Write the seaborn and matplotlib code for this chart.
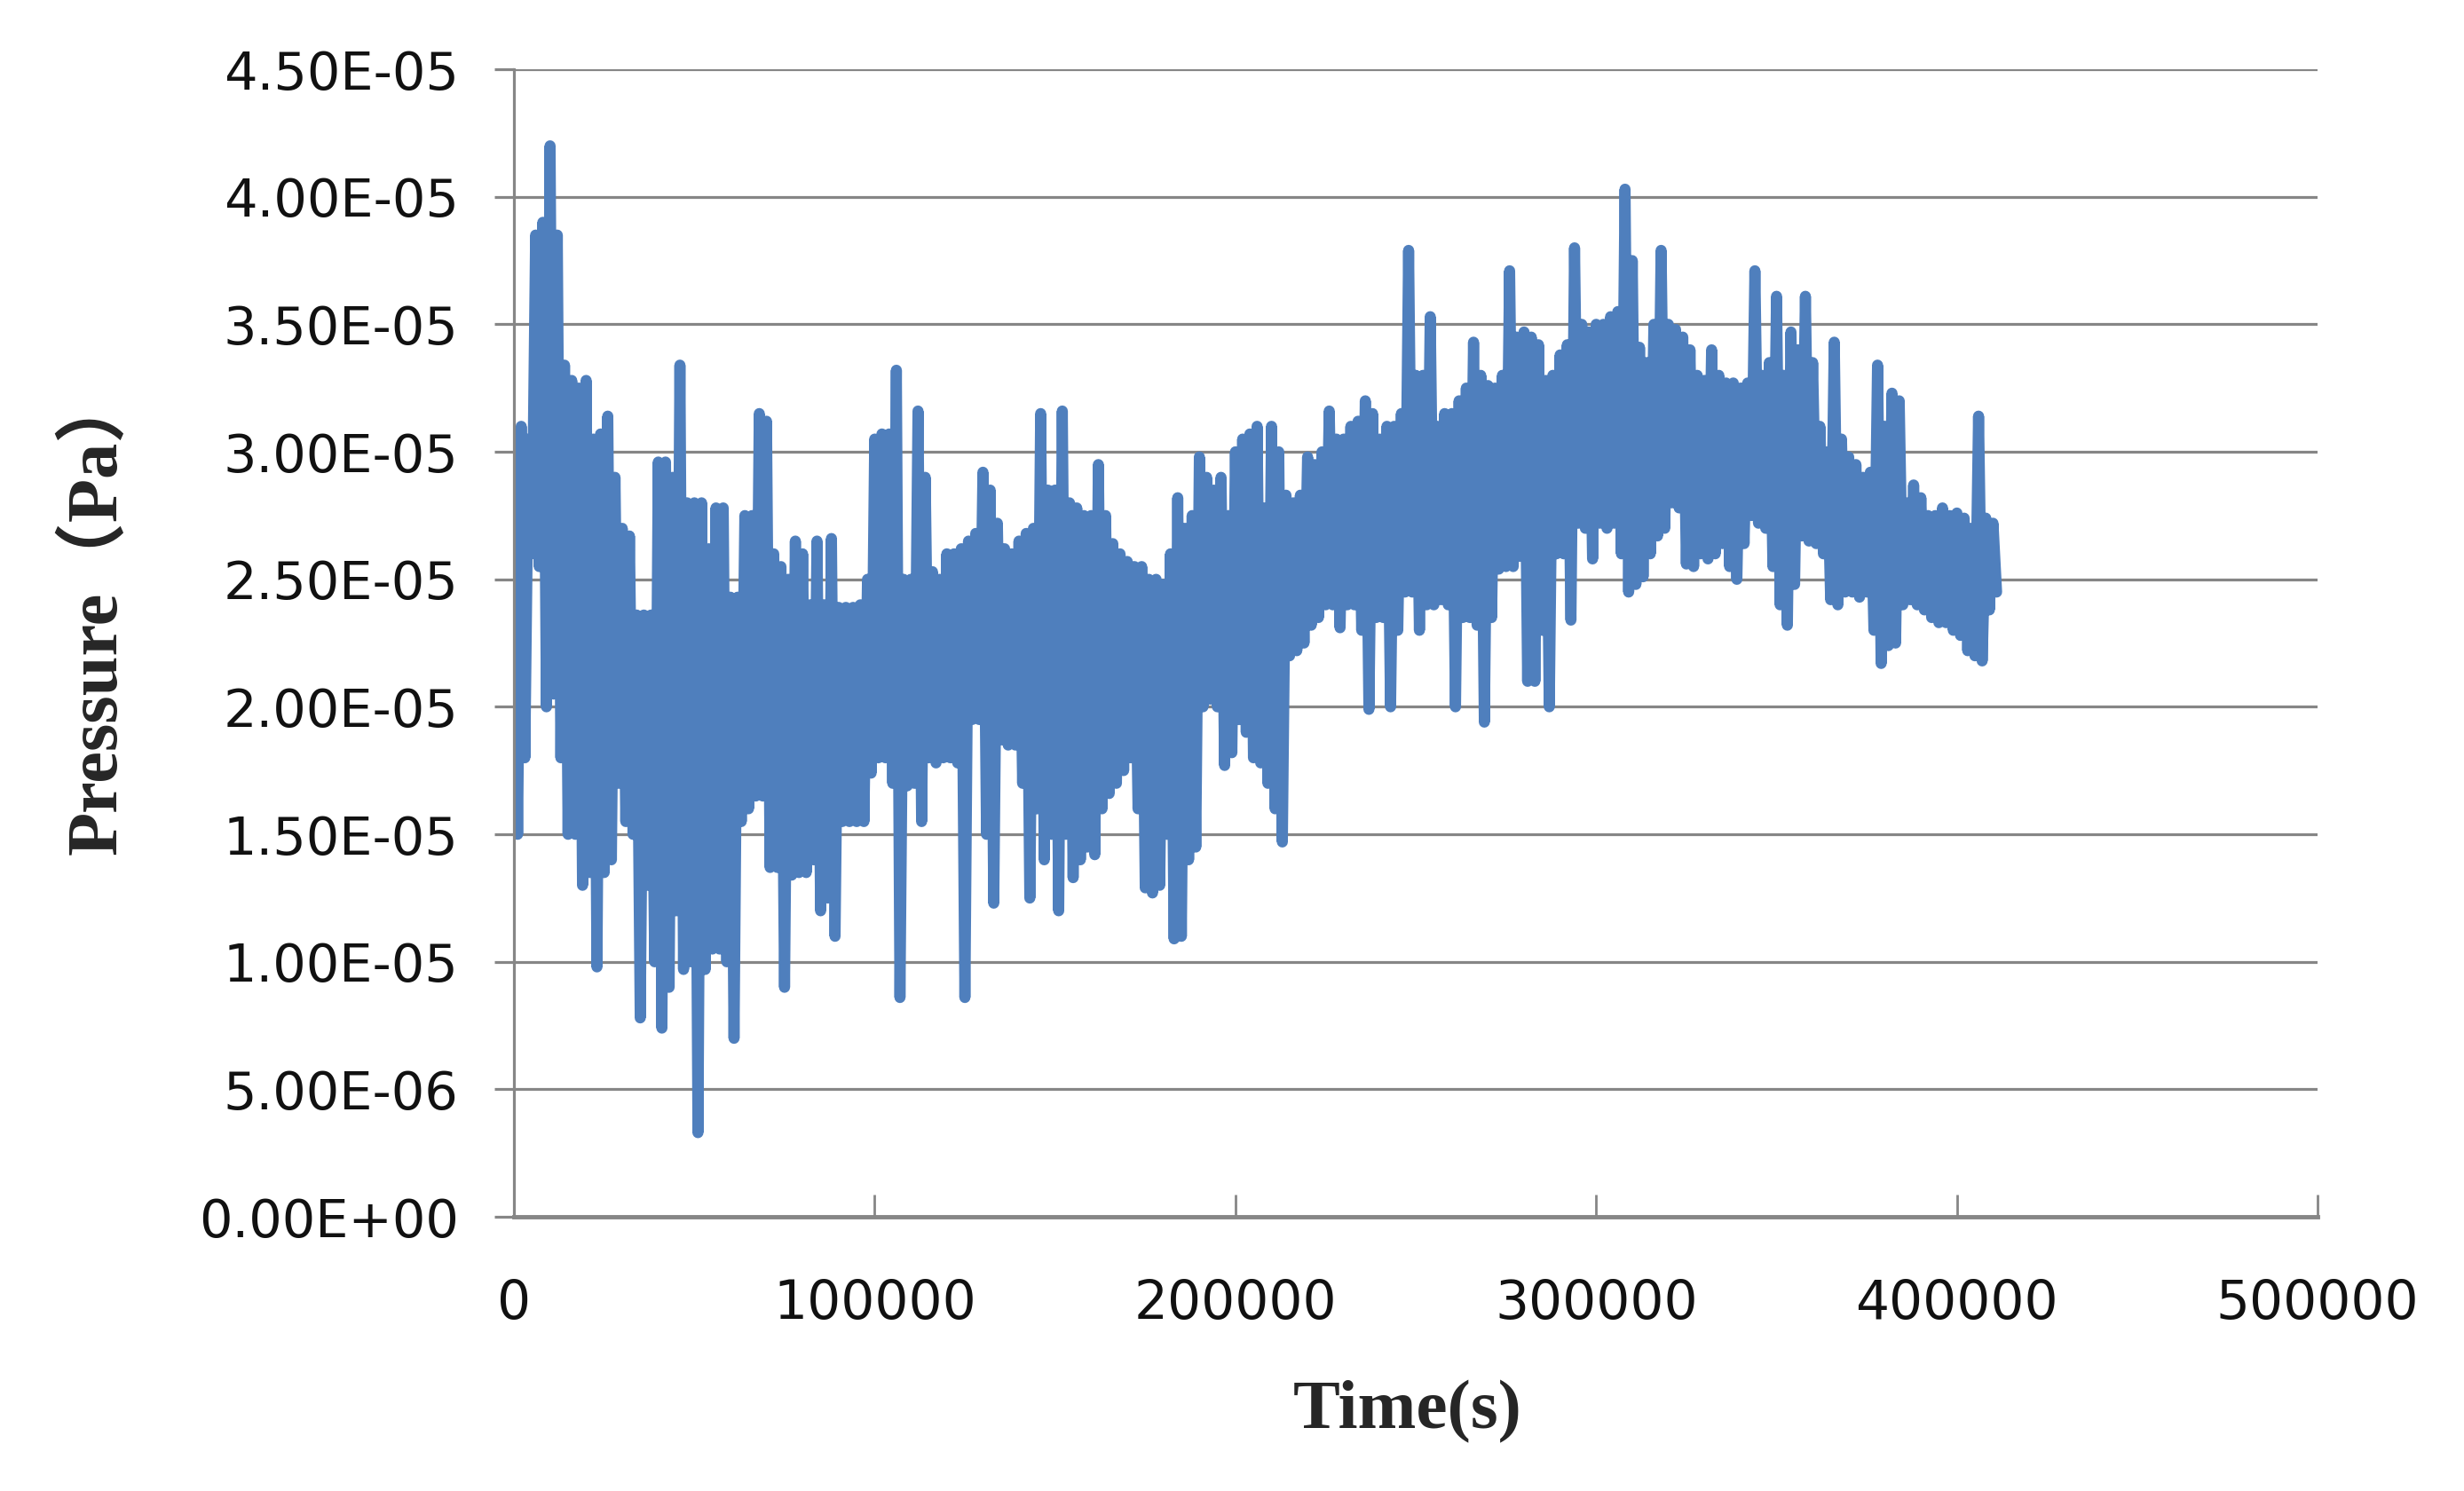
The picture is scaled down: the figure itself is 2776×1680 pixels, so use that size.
import numpy as np
import pandas as pd
import seaborn as sns
import matplotlib
matplotlib.use("Agg")
import matplotlib.pyplot as plt
from matplotlib.ticker import FuncFormatter

# pressure readings in units of 1e-5 Pa
# upper: samples at t = 0, 2000, 4000 ... s
# lower: samples at t = 1000, 3000, 5000 ... s
SAMPLE_STEP = 1000  # seconds between samples

upper = [
    3.0, 3.1, 3.05, 3.85, 3.9, 4.2, 3.85, 3.34, 3.28, 3.25,
    3.28, 3.05, 3.07, 3.14, 2.9, 2.7, 2.67, 2.36, 2.36, 2.36,
    2.96, 2.96, 2.9, 3.34, 2.8, 2.8, 2.8, 2.62, 2.78, 2.78,
    2.43, 2.43, 2.75, 2.75, 3.15, 3.12, 2.6, 2.55, 2.5, 2.65,
    2.6, 2.4, 2.65, 2.4, 2.66, 2.39, 2.39, 2.39, 2.4, 2.5,
    3.05, 3.07, 3.07, 3.32, 2.5, 2.5, 3.16, 2.9, 2.53, 2.5,
    2.6, 2.6, 2.62, 2.65, 2.68, 2.92, 2.85, 2.72, 2.62, 2.6,
    2.65, 2.68, 2.7, 3.15, 2.85, 2.85, 3.16, 2.8, 2.78, 2.75,
    2.75, 2.95, 2.75, 2.64, 2.6, 2.57, 2.55, 2.55, 2.5, 2.5,
    2.48, 2.6, 2.82, 2.7, 2.75, 2.98, 2.9, 2.85, 2.9, 2.75,
    3.0, 3.05, 3.07, 3.1, 2.78, 3.1, 3.0, 2.83, 2.8, 2.83,
    2.98, 2.95, 3.0, 3.16, 3.05, 3.05, 3.1, 3.12, 3.2, 3.15,
    3.05, 3.1, 3.1, 3.15, 3.79, 3.3, 3.3, 3.53, 3.1, 3.15,
    3.15, 3.2, 3.25, 3.43, 3.3, 3.26, 3.25, 3.3, 3.71, 3.45,
    3.47, 3.45, 3.42, 3.28, 3.3, 3.38, 3.42, 3.8, 3.5, 3.47,
    3.5, 3.5, 3.53, 3.55, 4.03, 3.75, 3.41, 3.35, 3.5, 3.79,
    3.5, 3.48, 3.45, 3.4, 3.3, 3.28, 3.4, 3.3, 3.27, 3.27,
    3.25, 3.27, 3.71, 3.3, 3.35, 3.61, 3.3, 3.47, 3.4, 3.61,
    3.35, 3.1, 3.0, 3.43, 3.05, 2.98, 2.95, 2.9, 2.92, 3.34,
    3.1, 3.23, 3.2, 2.8, 2.87, 2.82, 2.75, 2.75, 2.78, 2.75,
    2.76, 2.74, 2.7, 3.14, 2.74, 2.72,
]

lower = [
    1.5, 1.8, 2.6, 2.55, 2.0, 2.05, 1.8, 1.5, 1.5, 1.3,
    1.35, 0.98, 1.35, 1.4, 1.7, 1.55, 1.5, 0.78, 1.3, 1.0,
    0.74, 0.9, 1.2, 0.97, 1.0, 0.33, 0.97, 1.05, 1.05, 1.0,
    0.7, 1.55, 1.6, 1.65, 1.65, 1.37, 1.37, 0.9, 1.34, 1.35,
    1.35, 1.4, 1.2, 1.25, 1.1, 1.55, 1.55, 1.55, 1.55, 1.74,
    1.8, 1.8, 1.7, 0.86, 1.69, 1.7, 1.55, 1.8, 1.78, 1.8,
    1.8, 1.78, 0.86, 1.95, 1.95, 1.5, 1.23, 1.87, 1.85, 1.85,
    1.7, 1.25, 1.6, 1.4, 1.5, 1.2, 1.5, 1.33, 1.4, 1.45,
    1.42, 1.6, 1.66, 1.7, 1.75, 1.8, 1.6, 1.29, 1.27, 1.3,
    1.5, 1.09, 1.1, 1.4, 1.45, 2.0, 2.03, 2.0, 1.77, 1.82,
    1.95, 1.9, 1.8, 1.78, 1.7, 1.6, 1.47, 2.2, 2.22, 2.25,
    2.32, 2.35, 2.4, 2.4, 2.31, 2.4, 2.4, 2.3, 1.99, 2.35,
    2.35, 2.0, 2.3, 2.45, 2.45, 2.3, 2.4, 2.4, 2.42, 2.4,
    2.0, 2.35, 2.35, 2.32, 1.94, 2.35, 2.54, 2.55, 2.55, 2.59,
    2.1, 2.1, 2.3, 2.0, 2.6, 2.6, 2.34, 2.72, 2.7, 2.58,
    2.72, 2.7, 2.72, 2.6, 2.45, 2.48, 2.51, 2.6, 2.67, 2.7,
    2.8, 2.78, 2.56, 2.55, 2.6, 2.58, 2.6, 2.64, 2.55, 2.5,
    2.64, 2.75, 2.72, 2.7, 2.55, 2.4, 2.32, 2.48, 2.67, 2.65,
    2.64, 2.6, 2.42, 2.4, 2.45, 2.45, 2.43, 2.45, 2.3, 2.17,
    2.24, 2.25, 2.4, 2.42, 2.4, 2.38, 2.35, 2.33, 2.33, 2.3,
    2.28, 2.22, 2.2, 2.18, 2.38, 2.45,
]

x_ticks = [0, 100000, 200000, 300000, 400000, 500000]
y_ticks = [0, 0.5e-5, 1.0e-5, 1.5e-5, 2.0e-5, 2.5e-5, 3.0e-5, 3.5e-5, 4.0e-5, 4.5e-5]

# build the series: the signal flips between the two readings every sample
pressure = np.empty(len(upper) + len(lower))
pressure[0::2] = upper
pressure[1::2] = lower
pressure = pressure * 1e-5
time = np.arange(len(pressure)) * SAMPLE_STEP
data = pd.DataFrame({"Time": time, "Pressure": pressure})

sns.set_theme(style="white")
plt.rcParams["font.family"] = ["DejaVu Sans"]

grey = "#868686"
fig = plt.figure(figsize=(27.76, 16.8), dpi=100)
ax = fig.add_axes([0.2086, 0.1839, 0.732, 0.7696])

sns.lineplot(data=data, x="Time", y="Pressure", estimator=None, sort=False,
             color="#4f7fbd", linewidth=9, ax=ax,
             solid_joinstyle="round", solid_capstyle="round")

ax.set_xlim(0, 500000)
ax.set_ylim(0, 4.5e-5)
ax.set_xticks(x_ticks)
ax.set_yticks(y_ticks)
ax.xaxis.set_major_formatter(FuncFormatter(lambda v, p: f"{int(v)}"))
ax.yaxis.set_major_formatter(FuncFormatter(lambda v, p: f"{v:.2E}"))

ax.yaxis.grid(True, color=grey, linewidth=2.3)
ax.xaxis.grid(False)
ax.set_axisbelow(True)

for side in ["top", "right"]:
    ax.spines[side].set_visible(False)
ax.spines["left"].set_color(grey)
ax.spines["left"].set_linewidth(2.3)
ax.spines["bottom"].set_color(grey)
ax.spines["bottom"].set_linewidth(3.5)

ax.tick_params(axis="y", direction="out", length=16, width=2.3, color=grey,
               pad=29, labelsize=42.5, labelcolor="#111111", left=True)
ax.tick_params(axis="x", direction="in", length=18, width=2, color=grey,
               pad=50, labelsize=43, labelcolor="#111111", bottom=True)

ax.set_xlabel("Time(s)", fontsize=57, fontweight="bold",
              family=["Liberation Serif", "DejaVu Serif"])
ax.set_ylabel("Pressure（Pa）", fontsize=58, fontweight="bold",
              family=["Liberation Serif", "Noto Sans CJK SC"])
ax.xaxis.set_label_coords(0.4956, -0.142)
ax.yaxis.set_label_coords(-0.2124, 0.527)

fig.savefig("out.png", dpi=100, facecolor="white")
